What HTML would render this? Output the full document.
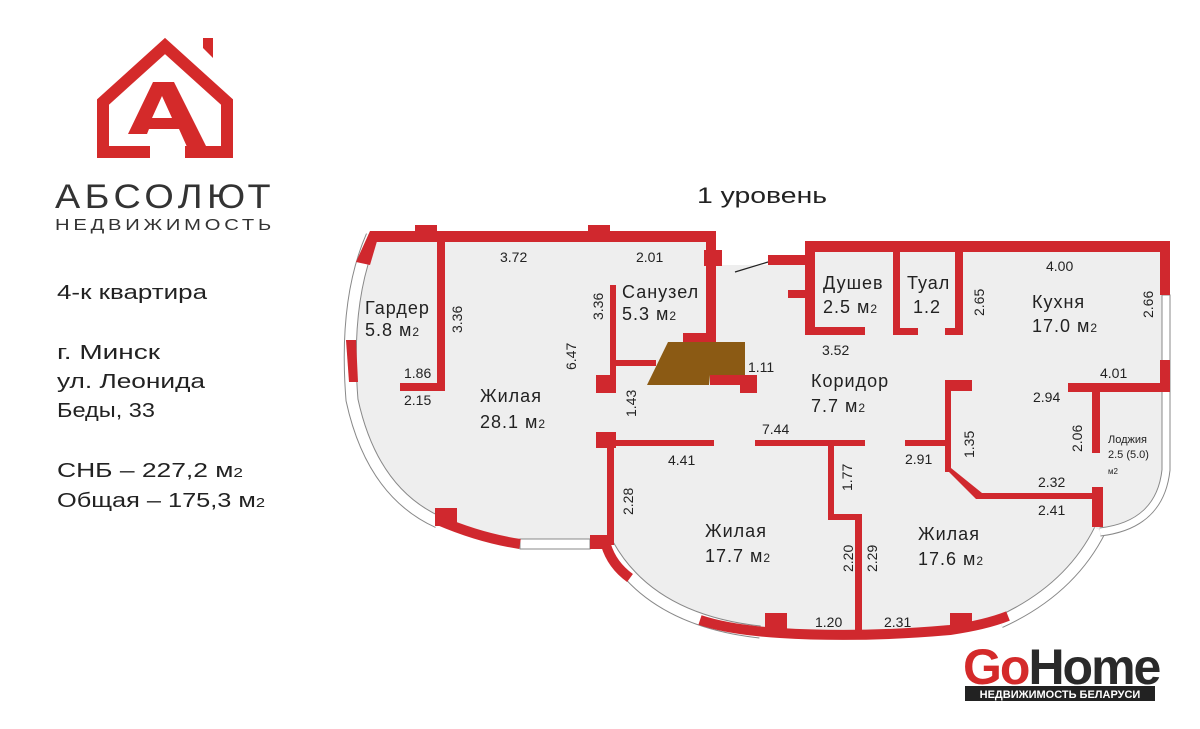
<!DOCTYPE html>
<html><head><meta charset="utf-8"><style>
html,body{margin:0;padding:0;background:#fff;}
svg{display:block;}
text{font-family:"Liberation Sans",sans-serif;}
</style></head><body>
<svg width="1200" height="729" viewBox="0 0 1200 729" xmlns="http://www.w3.org/2000/svg">
<rect width="1200" height="729" fill="#fff"/>
<!-- Logo -->
<g fill="none" stroke="#d42a2a" stroke-width="12" stroke-linejoin="miter">
<path d="M150,152 L103,152 L103,102 L165,46 L227,102 L227,152 L185,152"/>
</g>
<polygon points="203,38 213,38 213,58 203,48" fill="#d42a2a"/>
<path d="M153,82 L174,82 L212,158 L192,158 L179,129 L149,129 L147,134 L128,134 Z M162,96 L152,118 L172,118 Z" fill="#d42a2a" fill-rule="evenodd"/>
<text x="55" y="208" font-size="34" fill="#333" textLength="220" lengthAdjust="spacingAndGlyphs" letter-spacing="4">АБСОЛЮТ</text>
<text x="55" y="230" font-size="16" fill="#333" textLength="220" lengthAdjust="spacingAndGlyphs" letter-spacing="3">НЕДВИЖИМОСТЬ</text>
<!-- left info -->
<g font-size="20" fill="#222">
<text x="57" y="299" textLength="150" lengthAdjust="spacingAndGlyphs">4-к квартира</text>
<text x="57" y="359" textLength="103" lengthAdjust="spacingAndGlyphs">г. Минск</text>
<text x="57" y="388" textLength="148" lengthAdjust="spacingAndGlyphs">ул. Леонида</text>
<text x="57" y="417" textLength="98" lengthAdjust="spacingAndGlyphs">Беды, 33</text>
<text x="57" y="477" textLength="186" lengthAdjust="spacingAndGlyphs">СНБ – 227,2 м<tspan font-size="13">2</tspan></text>
<text x="57" y="507" textLength="208" lengthAdjust="spacingAndGlyphs">Общая – 175,3 м<tspan font-size="13">2</tspan></text>
</g>
<text x="697" y="203" font-size="22" fill="#222" textLength="130" lengthAdjust="spacingAndGlyphs">1 уровень</text>
<!-- floor fill -->
<path d="M372,238 L716,238 L716,265 L805,265 L805,246 L1166,246 L1166,470 Q1160,525 1100,532 Q1040,615 960,630 L860,637 L760,632 Q650,620 608,545 L520,545 Q400,530 360,430 Q348,330 372,238 Z" fill="#eeeeee"/>
<!-- windows -->
<g fill="none">
<path d="M372,236 Q344,300 352,400 Q372,492 438,522" stroke="#888" stroke-width="13"/>
<path d="M372,236 Q344,300 352,400 Q372,492 438,522" stroke="#fff" stroke-width="11"/>
<path d="M608,545 Q650,620 760,632" stroke="#888" stroke-width="13"/>
<path d="M608,545 Q650,620 760,632" stroke="#fff" stroke-width="11"/>
<path d="M1000,622 Q1070,590 1100,530" stroke="#888" stroke-width="13"/>
<path d="M1000,622 Q1070,590 1100,530" stroke="#fff" stroke-width="11"/>
<path d="M1100,532 Q1160,525 1166,470 L1166,360" stroke="#888" stroke-width="9"/>
<path d="M1100,532 Q1160,525 1166,470 L1166,360" stroke="#fff" stroke-width="7"/>
<rect x="1162" y="295" width="8" height="66" fill="#fff" stroke="#888" stroke-width="1"/>
<rect x="520" y="539" width="70" height="10" fill="#fff" stroke="#888" stroke-width="1"/>
</g>
<!-- red walls -->
<g fill="#d0282e" stroke="none">
<rect x="370" y="231" width="346" height="11"/>
<rect x="415" y="225" width="22" height="10"/>
<rect x="588" y="225" width="22" height="10"/>
<rect x="706" y="231" width="10" height="112"/>
<rect x="704" y="250" width="18" height="16"/>
<polygon points="370,231 380,231 370,265 356,262"/>
<polygon points="346,340 356,340 358,382 349,382"/>
<rect x="437" y="242" width="8" height="149"/>
<rect x="400" y="383" width="45" height="8"/>
<rect x="610" y="285" width="6" height="105"/>
<rect x="616" y="360" width="40" height="6"/>
<rect x="596" y="375" width="20" height="18"/>
<rect x="683" y="333" width="29" height="12"/>
<rect x="710" y="375" width="35" height="10"/>
<rect x="740" y="375" width="17" height="18"/>
<rect x="596" y="432" width="20" height="16"/>
<rect x="616" y="440" width="98" height="6"/>
<rect x="755" y="440" width="110" height="6"/>
<rect x="607" y="440" width="7" height="105"/>
<rect x="828" y="446" width="6" height="72"/>
<rect x="828" y="514" width="34" height="6"/>
<rect x="855" y="514" width="7" height="122"/>
<rect x="905" y="440" width="46" height="6"/>
<rect x="945" y="380" width="6" height="92"/>
<rect x="945" y="380" width="27" height="11"/>
<polygon points="945,468 951,468 982,493 982,499 976,499"/>
<rect x="978" y="493" width="122" height="6"/>
<rect x="1092" y="487" width="11" height="40"/>
<rect x="1068" y="383" width="100" height="9"/>
<rect x="1092" y="383" width="8" height="70"/>
<rect x="1160" y="360" width="10" height="32"/>
<rect x="1160" y="241" width="10" height="54"/>
<rect x="805" y="241" width="365" height="11"/>
<rect x="805" y="241" width="10" height="94"/>
<rect x="805" y="327" width="60" height="8"/>
<rect x="788" y="290" width="17" height="8"/>
<rect x="768" y="255" width="37" height="10"/>
<rect x="893" y="252" width="7" height="83"/>
<rect x="893" y="328" width="25" height="7"/>
<rect x="955" y="252" width="8" height="83"/>
<rect x="945" y="328" width="18" height="7"/>
<rect x="765" y="613" width="22" height="18"/>
<rect x="950" y="613" width="22" height="18"/>
<rect x="590" y="535" width="20" height="14"/>
<rect x="435" y="508" width="22" height="18"/>
</g>
<g fill="none" stroke="#d0282e" stroke-width="10">
<path d="M438,520 Q480,538 520,544"/>
<path d="M606,545 Q612,565 630,578"/>
<path d="M700,620 Q730,630 780,633 Q860,638 950,630 Q985,625 1008,616"/>
</g>
<polygon points="668,342 745,342 745,375 710,375 709,385 647,385" fill="#8b5a14"/>
<line x1="735" y1="272" x2="768" y2="262" stroke="#222" stroke-width="1.2"/>
<!-- labels -->
<g font-size="18" fill="#222" letter-spacing="1">
<text x="365" y="314">Гардер</text><text x="365" y="336">5.8 м<tspan font-size="12">2</tspan></text>
<text x="622" y="298">Санузел</text><text x="622" y="320">5.3 м<tspan font-size="12">2</tspan></text>
<text x="480" y="402">Жилая</text><text x="480" y="428">28.1 м<tspan font-size="12">2</tspan></text>
<text x="823" y="289">Душев</text><text x="823" y="313">2.5 м<tspan font-size="12">2</tspan></text>
<text x="907" y="289">Туал</text><text x="913" y="313">1.2</text>
<text x="1032" y="308">Кухня</text><text x="1032" y="332">17.0 м<tspan font-size="12">2</tspan></text>
<text x="811" y="387">Коридор</text><text x="811" y="412">7.7 м<tspan font-size="12">2</tspan></text>
<text x="705" y="537">Жилая</text><text x="705" y="562">17.7 м<tspan font-size="12">2</tspan></text>
<text x="918" y="540">Жилая</text><text x="918" y="565">17.6 м<tspan font-size="12">2</tspan></text>
</g>
<g font-size="11" fill="#222"><text x="1108" y="443">Лоджия</text><text x="1108" y="458">2.5 (5.0)</text><text x="1108" y="474" font-size="8">м2</text></g>
<g font-size="14" fill="#222">
<text x="500" y="262">3.72</text><text x="636" y="262">2.01</text>
<text x="404" y="378">1.86</text><text x="404" y="405">2.15</text>
<text x="1046" y="271">4.00</text><text x="822" y="355">3.52</text>
<text x="748" y="372">1.11</text><text x="1100" y="378">4.01</text>
<text x="1033" y="402">2.94</text><text x="762" y="434">7.44</text>
<text x="668" y="465">4.41</text><text x="905" y="464">2.91</text>
<text x="1038" y="487">2.32</text><text x="1038" y="515">2.41</text>
<text x="815" y="627">1.20</text><text x="884" y="627">2.31</text>
</g>
<g font-size="14" fill="#222">
<text transform="translate(462,333) rotate(-90)">3.36</text>
<text transform="translate(603,320) rotate(-90)">3.36</text>
<text transform="translate(576,370) rotate(-90)">6.47</text>
<text transform="translate(636,417) rotate(-90)">1.43</text>
<text transform="translate(633,515) rotate(-90)">2.28</text>
<text transform="translate(852,491) rotate(-90)">1.77</text>
<text transform="translate(853,572) rotate(-90)">2.20</text>
<text transform="translate(877,572) rotate(-90)">2.29</text>
<text transform="translate(974,458) rotate(-90)">1.35</text>
<text transform="translate(984,316) rotate(-90)">2.65</text>
<text transform="translate(1153,318) rotate(-90)">2.66</text>
<text transform="translate(1082,452) rotate(-90)">2.06</text>
</g>
<!-- GoHome -->
<text x="963" y="684" font-size="50" font-weight="bold" letter-spacing="-2" fill="#d42a2a">Go<tspan fill="#2a2a2a">Home</tspan></text>
<rect x="965" y="686" width="190" height="15" fill="#222"/>
<text x="1060" y="698" font-size="11" font-weight="bold" fill="#fff" text-anchor="middle">НЕДВИЖИМОСТЬ БЕЛАРУСИ</text>
</svg>
</body></html>
